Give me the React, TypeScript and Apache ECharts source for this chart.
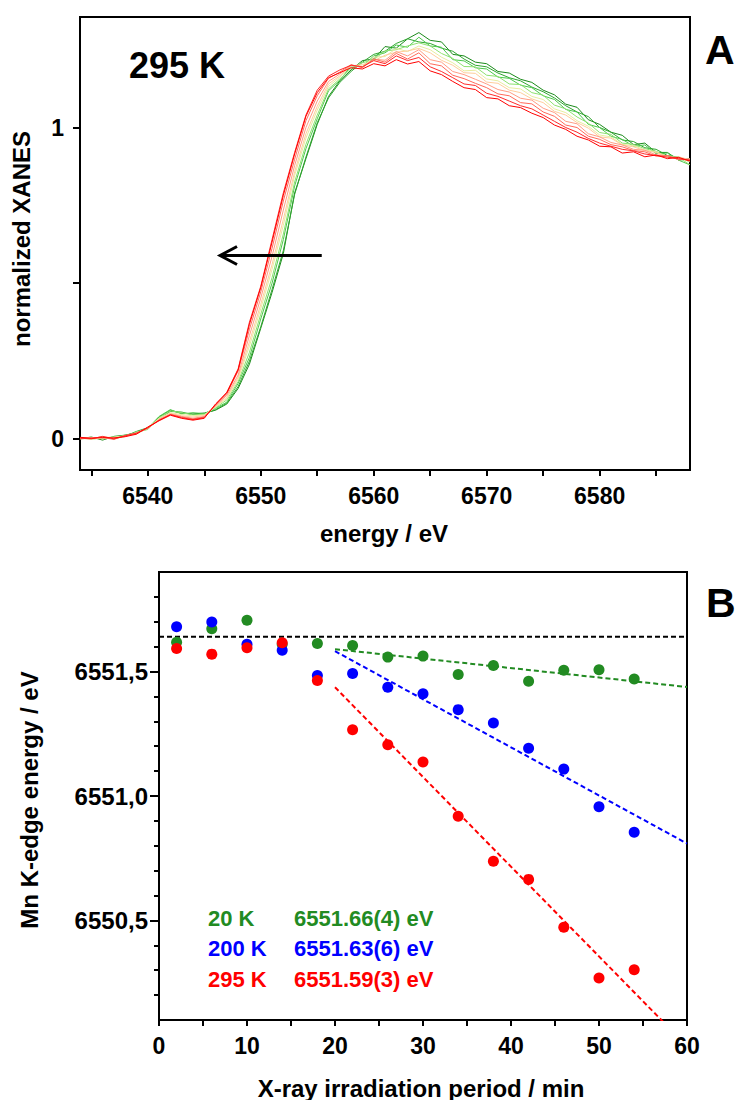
import React, { useEffect, useRef } from "react";
import * as echarts from "echarts";

// ---------- Panel A: XANES spectra ----------
const energy = [
  6534, 6535, 6536, 6537, 6538, 6539, 6540, 6541, 6542, 6543, 6544, 6545,
  6546, 6547, 6548, 6549, 6550, 6551, 6552, 6553, 6554, 6555,
  6556, 6557, 6558, 6559, 6560, 6561, 6562, 6563, 6564, 6565,
  6566, 6567, 6568, 6569, 6570, 6571, 6572, 6573, 6574, 6575,
  6576, 6577, 6578, 6579, 6580, 6581, 6582, 6583, 6584, 6585,
  6586, 6587, 6588,
];

const xanes01 = [
  0.000, 0.006, -0.004, 0.008, 0.012, 0.020, 0.032, 0.070, 0.092, 0.082, 0.080, 0.083,
  0.092, 0.112, 0.162, 0.240, 0.355, 0.470, 0.595, 0.790, 0.900, 1.010,
  1.100, 1.150, 1.185, 1.215, 1.220, 1.260, 1.255, 1.285, 1.305, 1.280,
  1.275, 1.235, 1.230, 1.210, 1.205, 1.180, 1.175, 1.155, 1.145, 1.120,
  1.105, 1.075, 1.065, 1.025, 1.010, 0.985, 0.975, 0.945, 0.950, 0.920,
  0.920, 0.895, 0.900,
];
const xanes02 = [
  0.004, 0.000, 0.002, 0.006, 0.009, 0.024, 0.036, 0.064, 0.088, 0.086, 0.078, 0.080,
  0.094, 0.115, 0.168, 0.250, 0.360, 0.480, 0.605, 0.785, 0.905, 1.015,
  1.095, 1.145, 1.180, 1.210, 1.235, 1.245, 1.270, 1.285, 1.275, 1.270,
  1.255, 1.245, 1.220, 1.200, 1.195, 1.175, 1.160, 1.150, 1.130, 1.115,
  1.095, 1.070, 1.050, 1.035, 1.000, 0.985, 0.960, 0.955, 0.935, 0.930,
  0.910, 0.905, 0.890,
];
const xanes03 = [
  0.002, 0.004, 0.000, 0.003, 0.012, 0.018, 0.034, 0.072, 0.094, 0.080, 0.084, 0.081,
  0.098, 0.118, 0.178, 0.262, 0.385, 0.500, 0.640, 0.812, 0.932, 1.028,
  1.118, 1.152, 1.198, 1.196, 1.230, 1.240, 1.265, 1.258, 1.290, 1.262,
  1.258, 1.218, 1.214, 1.192, 1.188, 1.162, 1.158, 1.136, 1.128, 1.102,
  1.090, 1.058, 1.050, 1.010, 1.000, 0.972, 0.962, 0.940, 0.944, 0.916,
  0.918, 0.895, 0.880,
];
const xanes04 = [
  0.000, 0.002, 0.006, 0.000, 0.008, 0.022, 0.030, 0.068, 0.090, 0.084, 0.077, 0.079,
  0.100, 0.125, 0.184, 0.278, 0.400, 0.518, 0.658, 0.825, 0.946, 1.040,
  1.124, 1.156, 1.190, 1.208, 1.218, 1.246, 1.250, 1.262, 1.272, 1.262,
  1.238, 1.222, 1.196, 1.195, 1.168, 1.164, 1.140, 1.138, 1.112, 1.104,
  1.072, 1.060, 1.034, 1.014, 0.984, 0.978, 0.950, 0.946, 0.932, 0.924,
  0.906, 0.904, 0.880,
];
const xanes05 = [
  0.003, -0.002, 0.004, 0.006, 0.010, 0.016, 0.036, 0.066, 0.084, 0.078, 0.074, 0.077,
  0.102, 0.130, 0.192, 0.298, 0.418, 0.544, 0.686, 0.846, 0.966, 1.056,
  1.132, 1.162, 1.200, 1.196, 1.226, 1.228, 1.254, 1.244, 1.262, 1.250,
  1.226, 1.208, 1.182, 1.184, 1.156, 1.150, 1.128, 1.124, 1.100, 1.090,
  1.060, 1.048, 1.022, 1.004, 0.976, 0.970, 0.946, 0.942, 0.928, 0.922,
  0.906, 0.902, 0.890,
];
const xanes06 = [
  0.001, 0.005, 0.000, 0.004, 0.007, 0.020, 0.033, 0.064, 0.082, 0.074, 0.070, 0.075,
  0.104, 0.134, 0.198, 0.312, 0.432, 0.560, 0.705, 0.858, 0.980, 1.068,
  1.140, 1.166, 1.198, 1.202, 1.214, 1.232, 1.242, 1.246, 1.254, 1.240,
  1.216, 1.200, 1.176, 1.174, 1.146, 1.142, 1.120, 1.112, 1.092, 1.080,
  1.052, 1.040, 1.016, 0.998, 0.970, 0.966, 0.944, 0.938, 0.926, 0.920,
  0.904, 0.906, 0.896,
];
const xanes07 = [
  0.004, 0.001, 0.007, 0.002, 0.009, 0.017, 0.034, 0.062, 0.080, 0.072, 0.066, 0.072,
  0.106, 0.140, 0.205, 0.332, 0.452, 0.586, 0.735, 0.878, 1.000, 1.085,
  1.148, 1.172, 1.200, 1.194, 1.220, 1.216, 1.244, 1.230, 1.250, 1.218,
  1.210, 1.180, 1.170, 1.155, 1.140, 1.122, 1.114, 1.094, 1.088, 1.062,
  1.048, 1.020, 1.012, 0.980, 0.970, 0.952, 0.944, 0.930, 0.927, 0.912,
  0.910, 0.896, 0.900,
];
const xanes08 = [
  0.000, 0.003, 0.005, -0.002, 0.011, 0.019, 0.036, 0.060, 0.078, 0.070, 0.064, 0.070,
  0.108, 0.145, 0.218, 0.352, 0.472, 0.612, 0.764, 0.898, 1.022, 1.102,
  1.158, 1.178, 1.202, 1.192, 1.220, 1.210, 1.238, 1.220, 1.240, 1.205,
  1.198, 1.168, 1.157, 1.142, 1.128, 1.108, 1.102, 1.080, 1.076, 1.050,
  1.036, 1.008, 1.000, 0.972, 0.962, 0.945, 0.938, 0.926, 0.922, 0.908,
  0.910, 0.898, 0.896,
];
const xanes09 = [
  0.002, 0.000, 0.008, 0.000, 0.010, 0.018, 0.035, 0.060, 0.078, 0.068, 0.062, 0.068,
  0.110, 0.150, 0.225, 0.375, 0.490, 0.640, 0.790, 0.920, 1.040, 1.120,
  1.165, 1.185, 1.200, 1.195, 1.215, 1.205, 1.230, 1.215, 1.225, 1.195,
  1.180, 1.160, 1.140, 1.135, 1.110, 1.100, 1.085, 1.070, 1.060, 1.040,
  1.020, 1.000, 0.985, 0.965, 0.950, 0.940, 0.930, 0.925, 0.915, 0.910,
  0.905, 0.900, 0.895,
];
const xanes10 = [
  0.005, 0.002, 0.004, 0.003, 0.007, 0.015, 0.038, 0.058, 0.076, 0.066, 0.060, 0.066,
  0.112, 0.148, 0.222, 0.368, 0.486, 0.632, 0.782, 0.915, 1.036, 1.112,
  1.160, 1.176, 1.192, 1.188, 1.205, 1.198, 1.218, 1.204, 1.212, 1.182,
  1.170, 1.148, 1.128, 1.122, 1.096, 1.092, 1.070, 1.064, 1.046, 1.032,
  1.008, 0.994, 0.972, 0.960, 0.940, 0.938, 0.918, 0.922, 0.906, 0.912,
  0.900, 0.904, 0.892,
];

const xanesCurves = [xanes01, xanes02, xanes03, xanes04, xanes05, xanes06, xanes07, xanes08, xanes09, xanes10];
const xanesColors = [
  "#1b8a1b", "#2fa62f", "#4cc94c", "#8fe070", "#e8eca0",
  "#ffcc9c", "#ff9c84", "#ff6a5a", "#ff2a2a", "#ff0000",
];

const energyTicks = [6535, 6540, 6545, 6550, 6555, 6560, 6565, 6570, 6575, 6580, 6585];
const energyLabels = [6540, 6550, 6560, 6570, 6580];
const xanesTicks = [0, 0.5, 1];
const xanesLabels = [0, 1];

// arrow (edge-shift direction)
const arrowShaftE = [6555.4, 6546.6];
const arrowShaftY = [0.589, 0.589];
const arrowHeadE = [6547.9, 6546.4, 6547.9];
const arrowHeadY = [0.618, 0.589, 0.56];

// ---------- Panel B: edge energies ----------
const irradTime = [2, 6, 10, 14, 18, 22, 26, 30, 34, 38, 42, 46, 50, 54];
const edge20K = [6551.618, 6551.672, 6551.706, 6551.61, 6551.613, 6551.605, 6551.558, 6551.562, 6551.488, 6551.524, 6551.461, 6551.505, 6551.507, 6551.47];
const edge200K = [6551.68, 6551.699, 6551.61, 6551.586, 6551.484, 6551.492, 6551.437, 6551.411, 6551.347, 6551.293, 6551.192, 6551.108, 6550.957, 6550.854];
const edge295K = [6551.593, 6551.57, 6551.596, 6551.616, 6551.464, 6551.266, 6551.206, 6551.137, 6550.919, 6550.738, 6550.665, 6550.473, 6550.269, 6550.302];

const fitTime = [20, 60];
const fit20K = [6551.59, 6551.438];
const fit200K = [6551.582, 6550.809];
const fit295K = [6551.437, 6549.995];
const refTime = [0, 60];
const refEdge = [6551.64, 6551.64];

const timeTicks = [0, 5, 10, 15, 20, 25, 30, 35, 40, 45, 50, 55, 60];
const timeLabels = [0, 10, 20, 30, 40, 50, 60];
const edgeMajor = [6550.5, 6551.0, 6551.5];
const edgeMinor = [6550.2, 6550.3, 6550.4, 6550.6, 6550.7, 6550.8, 6550.9, 6551.1, 6551.2, 6551.3, 6551.4, 6551.6, 6551.7, 6551.8];

const legendTemps = ["20 K", "200 K", "295 K"];
const legendValues = ["6551.66(4) eV", "6551.63(6) eV", "6551.59(3) eV"];

const GREEN = "#228b22";
const BLUE = "#0000ff";
const RED = "#ff0000";
const FONT = '"Liberation Sans", Arial, Helvetica, sans-serif';

const pairs = (xs: number[], ys: number[]) => xs.map((x, i) => [x, ys[i]]);

const axisLine = { show: true, onZero: false, lineStyle: { color: "#000", width: 2 } };
const labelStyle = { color: "#000", fontSize: 23, fontWeight: "bold" as const, fontFamily: FONT };

function txt(text: string, x: number, y: number, size: number, color = "#000", align = "left", rotation = 0) {
  return {
    type: "text",
    x,
    y,
    rotation,
    silent: true,
    style: {
      text,
      fill: color,
      fontSize: size,
      fontWeight: "bold",
      fontFamily: FONT,
      textAlign: align,
      textVerticalAlign: "middle",
      align,
      verticalAlign: "middle",
    },
  };
}

export default function App() {
  const ref = useRef<HTMLDivElement>(null);

  useEffect(() => {
    document.body.style.margin = "0";
    if (!ref.current) return;
    const chart = echarts.init(ref.current, undefined, { renderer: "svg" });

    const xanesSeries = xanesCurves.map((vals, i) => ({
      type: "line",
      xAxisIndex: 0,
      yAxisIndex: 0,
      data: pairs(energy, vals),
      symbol: "none",
      showSymbol: false,
      silent: true,
      z: 2 + i,
      lineStyle: { width: 1, color: xanesColors[i] },
    }));

    const option: any = {
      animation: false,
      backgroundColor: "#fff",
      grid: [
        { left: 80, top: 17, width: 610, height: 453, show: true, borderColor: "#000", borderWidth: 2, backgroundColor: "transparent" },
        { left: 159, top: 572, width: 528, height: 448, show: true, borderColor: "#000", borderWidth: 2, backgroundColor: "transparent" },
      ],
      xAxis: [
        {
          type: "value", gridIndex: 0, min: 6534, max: 6588, position: "bottom",
          axisLine,
          axisTick: { show: true, inside: false, length: 6, lineStyle: { color: "#000", width: 2 }, customValues: energyTicks },
          axisLabel: { ...labelStyle, margin: 14, customValues: energyLabels, formatter: (v: number) => String(v) },
          splitLine: { show: false },
        },
        {
          type: "value", gridIndex: 1, min: 0, max: 60, position: "bottom",
          axisLine,
          axisTick: { show: true, inside: false, length: 6, lineStyle: { color: "#000", width: 2 }, customValues: timeTicks },
          axisLabel: { ...labelStyle, margin: 14, customValues: timeLabels, formatter: (v: number) => String(v) },
          splitLine: { show: false },
        },
      ],
      yAxis: [
        {
          type: "value", gridIndex: 0, min: -0.1, max: 1.355, position: "left",
          axisLine,
          axisTick: { show: true, inside: false, length: 7, lineStyle: { color: "#000", width: 2 }, customValues: xanesTicks },
          axisLabel: { ...labelStyle, margin: 16, customValues: xanesLabels, formatter: (v: number) => String(v) },
          splitLine: { show: false },
        },
        {
          type: "value", gridIndex: 1, min: 6550.1, max: 6551.9, position: "left", offset: 0,
          axisLine,
          axisTick: { show: true, inside: false, length: 9, lineStyle: { color: "#000", width: 2 }, customValues: edgeMajor },
          axisLabel: { ...labelStyle, fontSize: 24, margin: 11, customValues: edgeMajor, formatter: (v: number) => v.toFixed(1).replace(".", ",") },
          splitLine: { show: false },
        },
        {
          type: "value", gridIndex: 1, min: 6550.1, max: 6551.9, position: "left", offset: 0,
          axisLine,
          axisTick: { show: true, inside: false, length: 5, lineStyle: { color: "#000", width: 2 }, customValues: edgeMinor },
          axisLabel: { show: false },
          splitLine: { show: false },
        },
      ],
      series: [
        ...xanesSeries,
        {
          type: "line", xAxisIndex: 0, yAxisIndex: 0, data: pairs(arrowShaftE, arrowShaftY),
          symbol: "none", silent: true, z: 20, lineStyle: { color: "#000", width: 3 },
        },
        {
          type: "line", xAxisIndex: 0, yAxisIndex: 0, data: pairs(arrowHeadE, arrowHeadY),
          symbol: "none", silent: true, z: 20, lineStyle: { color: "#000", width: 3, join: "miter" },
        },
        {
          type: "line", xAxisIndex: 1, yAxisIndex: 1, data: pairs(refTime, refEdge),
          symbol: "none", silent: true, z: 3, lineStyle: { color: "#000", width: 2, type: [5, 3] },
        },
        {
          type: "line", xAxisIndex: 1, yAxisIndex: 1, data: pairs(fitTime, fit20K),
          symbol: "none", silent: true, z: 3, lineStyle: { color: GREEN, width: 2, type: [5, 3] },
        },
        {
          type: "line", xAxisIndex: 1, yAxisIndex: 1, data: pairs(fitTime, fit200K),
          symbol: "none", silent: true, z: 3, lineStyle: { color: BLUE, width: 2, type: [5, 3] },
        },
        {
          type: "line", xAxisIndex: 1, yAxisIndex: 1, data: pairs(fitTime, fit295K), clip: true,
          symbol: "none", silent: true, z: 3, lineStyle: { color: RED, width: 2, type: [5, 3] },
        },
        {
          type: "scatter", xAxisIndex: 1, yAxisIndex: 1, data: pairs(irradTime, edge20K),
          symbol: "circle", symbolSize: 11, z: 5, itemStyle: { color: GREEN, opacity: 1 },
        },
        {
          type: "scatter", xAxisIndex: 1, yAxisIndex: 1, data: pairs(irradTime, edge200K),
          symbol: "circle", symbolSize: 11, z: 6, itemStyle: { color: BLUE, opacity: 1 },
        },
        {
          type: "scatter", xAxisIndex: 1, yAxisIndex: 1, data: pairs(irradTime, edge295K),
          symbol: "circle", symbolSize: 11, z: 7, itemStyle: { color: RED, opacity: 1 },
        },
      ],
      graphic: [
        txt("295 K", 129, 65, 36),
        txt("A", 705, 50, 41),
        txt("B", 706, 603, 41),
        txt("normalized XANES", 21, 239, 24, "#000", "center", Math.PI / 2),
        txt("energy / eV", 384, 533, 24, "#000", "center"),
        txt("Mn K-edge energy / eV", 29, 800, 24, "#000", "center", Math.PI / 2),
        txt("X-ray irradiation period / min", 421, 1088, 24, "#000", "center"),
        txt(legendTemps[0], 208, 918, 22, GREEN),
        txt(legendTemps[1], 208, 948, 22, BLUE),
        txt(legendTemps[2], 208, 979, 22, RED),
        txt(legendValues[0], 294, 918, 22, GREEN),
        txt(legendValues[1], 294, 948, 22, BLUE),
        txt(legendValues[2], 294, 979, 22, RED),
      ],
    };

    chart.setOption(option);
    return () => chart.dispose();
  }, []);

  return <div ref={ref} style={{ width: 737, height: 1100 }} />;
}
